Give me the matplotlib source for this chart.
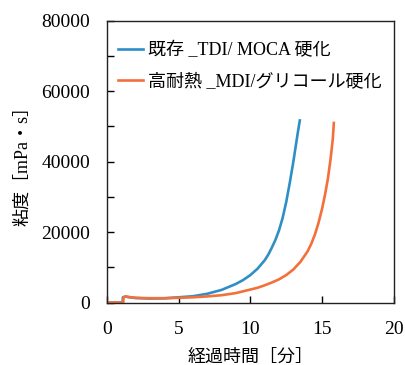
import matplotlib
matplotlib.use("Agg")
import matplotlib.pyplot as plt
from matplotlib.ticker import MultipleLocator

plt.rcParams["font.family"] = ["Liberation Serif", "Noto Sans CJK JP"]

BLUE = "#2e8fc6"
ORANGE = "#f4703a"

labels = ["既存 _TDI/ MOCA 硬化", "高耐熱 _MDI/グリコール硬化"]

t_tdi = [0, 1.1, 1.12, 1.3, 1.6, 2, 3, 4, 5, 6, 7, 8, 9, 9.5, 10, 10.5, 11,
         11.25, 11.5, 11.75, 12, 12.25, 12.5, 12.75, 13, 13.15, 13.3, 13.4,
         13.45]
v_tdi = [0, 0, 1500, 1700, 1500, 1300, 1150, 1200, 1500, 1800, 2500, 3600,
         5300, 6400, 7800, 9600, 12000, 13600, 15600, 17800, 20500, 24000,
         28500, 34000, 40000, 44000, 48000, 50500, 51700]

t_mdi = [0, 1.15, 1.17, 1.3, 1.6, 2, 3, 4, 5, 6, 7, 8, 9, 10, 10.5, 11, 11.5,
         12, 12.5, 13, 13.5, 14, 14.25, 14.5, 14.75, 15, 15.2, 15.4, 15.6,
         15.75, 15.82]
v_mdi = [0, 0, 1500, 1750, 1550, 1350, 1250, 1250, 1350, 1500, 1750, 2100,
         2700, 3700, 4200, 4900, 5700, 6600, 7800, 9400, 11600, 14600, 16700,
         19300, 22600, 26600, 30500, 35000, 41000, 46500, 51000]

fig = plt.figure(figsize=(4.06, 3.65), dpi=100)
ax = fig.add_axes([0.263, 0.171, 0.707, 0.772])

ax.plot(t_tdi, v_tdi, color=BLUE, lw=1.9, label=labels[0])
ax.plot(t_mdi, v_mdi, color=ORANGE, lw=1.9, label=labels[1])

ax.set_xlim(0, 20)
ax.set_ylim(0, 80000)
ax.xaxis.set_major_locator(MultipleLocator(5))
ax.yaxis.set_major_locator(MultipleLocator(20000))
ax.yaxis.set_minor_locator(MultipleLocator(10000))
ax.tick_params(which="both", direction="in", length=5, width=1,
               labelsize=14)
ax.tick_params(axis="y", pad=12)
ax.tick_params(axis="x", pad=13)
for s in ax.spines.values():
    s.set_linewidth(1)
    s.set_color("#222")

ax.set_xlabel("経過時間［分］", fontsize=13, labelpad=8)
ax.set_ylabel("粘度［mPa・s］", fontsize=13, labelpad=7)

ax.legend(loc="upper left", frameon=False, fontsize=13,
          handlelength=1.35, handletextpad=0.3, labelspacing=0.75,
          borderaxespad=0.0, bbox_to_anchor=(0.015, 0.95))

fig.savefig("out.png", dpi=100)
